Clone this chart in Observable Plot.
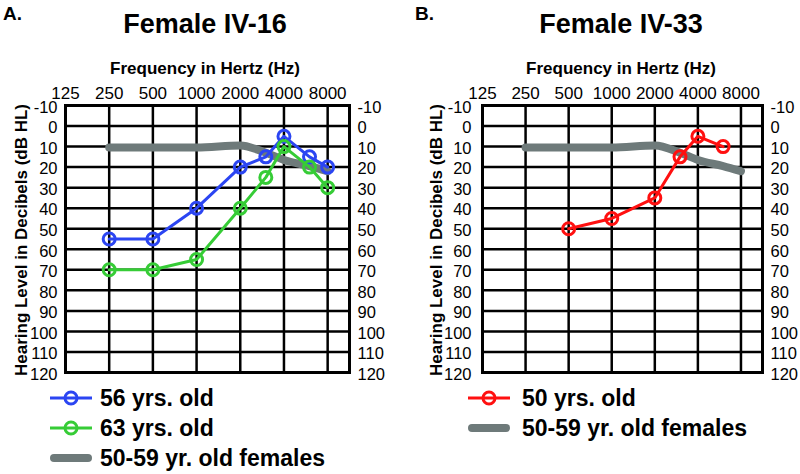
<!DOCTYPE html>
<html><head><meta charset="utf-8">
<script src="https://cdn.jsdelivr.net/npm/d3@7"></script>
<script src="https://cdn.jsdelivr.net/npm/@observablehq/plot@0.6"></script>
<style>
body{margin:0;background:#fff;font-family:"Liberation Sans",Arial,Helvetica,sans-serif;}
#wrap{position:relative;width:800px;height:474px;display:flex;overflow:hidden;}
.panel{position:relative;width:400px;height:474px;}
.panel > svg{position:absolute;left:0;top:0;}
.lbl{position:absolute;font-weight:bold;white-space:nowrap;color:#000;line-height:1;}
.sw{position:absolute;}
</style></head><body><div id="wrap"></div><script>
// ---- data ----
const freqTicks = [125, 250, 500, 1000, 2000, 4000, 8000];
const dbTicks = [-10, 0, 10, 20, 30, 40, 50, 60, 70, 80, 90, 100, 110, 120];
const freqs = [250, 500, 1000, 2000, 3000, 4000, 6000, 8000];
const iv16_56 = [55, 55, 40, 20, 15, 5, 15, 20];
const iv16_63 = [70, 70, 65, 40, 25, 10, 20, 30];
const iv33Freqs = [500, 1000, 2000, 3000, 4000, 6000];
const iv33_50 = [50, 45, 35, 15, 5, 10];
const normFemales = [10.5, 10.5, 10.5, 9.5, 13, 16.5, 19.5, 22];

const BLUE = "#2b45f2", GREEN = "#36cc36", RED = "#ff1010", GRAY = "#6e7a7a";
const FONT = '"Liberation Sans", Arial, Helvetica, sans-serif';

const toRows = (fs, vs) => fs.map((f, i) => ({f, db: vs[i]}));

function label(parent, text, x, y, size, opts = {}) {
  const d = document.createElement("div");
  d.className = "lbl";
  d.textContent = text;
  d.style.fontSize = size + "px";
  d.style.left = x + "px";
  d.style.top = y + "px";
  d.style.transform = opts.transform || "translate(-50%,-50%)";
  parent.appendChild(d);
}

function swatch(parent, x, y, color, kind) {
  const ns = "http://www.w3.org/2000/svg";
  const s = document.createElementNS(ns, "svg");
  s.setAttribute("width", 48); s.setAttribute("height", 20);
  s.setAttribute("class", "sw");
  s.style.left = (x - 3) + "px"; s.style.top = (y - 10) + "px";
  const l = document.createElementNS(ns, "line");
  l.setAttribute("x1", 3 + (kind === "band" ? 4 : 0)); l.setAttribute("x2", 45 - (kind === "band" ? 4 : 0));
  l.setAttribute("y1", 10); l.setAttribute("y2", 10);
  l.setAttribute("stroke", color);
  l.setAttribute("stroke-width", kind === "band" ? 8 : 3);
  l.setAttribute("stroke-linecap", kind === "band" ? "round" : "butt");
  s.appendChild(l);
  if (kind !== "band") {
    const c = document.createElementNS(ns, "circle");
    c.setAttribute("cx", 24); c.setAttribute("cy", 10); c.setAttribute("r", 6);
    c.setAttribute("fill", "none"); c.setAttribute("stroke", color); c.setAttribute("stroke-width", 3);
    s.appendChild(c);
  }
  parent.appendChild(s);
}

function panel(cfg) {
  const div = document.createElement("div");
  div.className = "panel";
  const seriesMarks = [];
  for (const s of cfg.series) {
    const rows = toRows(s.f, s.v);
    seriesMarks.push(Plot.line(rows, {x: "f", y: "db", stroke: s.color, strokeWidth: 3}));
    seriesMarks.push(Plot.dot(rows, {x: "f", y: "db", r: 6, stroke: s.color, strokeWidth: 3, fill: "none"}));
  }
  const axisOpts = {tickSize: 0, label: null, dy: 2, tickFormat: d => String(d), fontSize: 16.5};
  const plot = Plot.plot({
    width: 400, height: 474,
    marginTop: 105, marginBottom: 102, marginLeft: cfg.ml, marginRight: cfg.mr,
    x: {type: "log", domain: [125, 125 * Math.pow(2, 6.5)], axis: null},
    y: {domain: [-10, 120], reverse: true},
    style: {fontFamily: FONT, fontSize: "17px", color: "#000", background: "transparent"},
    marks: [
      Plot.ruleX(freqTicks.slice(1), {stroke: "#000", strokeWidth: 2.5}),
      Plot.ruleY(dbTicks.slice(1, -1), {stroke: "#000", strokeWidth: 2.5}),
      Plot.frame({stroke: "#000", strokeWidth: 3}),
      // top frequency tick labels, positioned by the log x scale
      Plot.text(freqTicks, {x: d => d, frameAnchor: "top", lineAnchor: "bottom", dy: -7, text: d => String(d), fontSize: 17, fill: "#000"}),
      Plot.axisY(dbTicks, {anchor: "left", tickPadding: cfg.tpl, ...axisOpts}),
      Plot.axisY(dbTicks, {anchor: "right", tickPadding: cfg.tpr, ...axisOpts}),
      Plot.line(toRows(freqs, normFemales), {x: "f", y: "db", stroke: GRAY, strokeWidth: 8, strokeLinecap: "round", curve: "monotone-x"}),
      ...seriesMarks
    ]
  });
  div.appendChild(plot);
  label(div, cfg.letter, cfg.letterX, 13, 19, {transform: "translate(0,-50%)"});
  label(div, cfg.title, cfg.cx, 24, 27);
  label(div, "Frequency in Hertz (Hz)", cfg.cx, 68, 17);
  label(div, "Hearing Level in Decibels (dB HL)", cfg.yLabX, 240, 17, {transform: "translate(-50%,-50%) rotate(-90deg)"});
  cfg.legend.forEach((it, i) => {
    const y = 398 + i * 30;
    swatch(div, cfg.swX, y, it.color, it.kind);
    label(div, it.text, cfg.txtX, y, 23, {transform: "translate(0,-50%)"});
  });
  return div;
}

const wrap = document.getElementById("wrap");
wrap.appendChild(panel({
  letter: "A.", letterX: 3, title: "Female IV-16", cx: 205, yLabX: 20.5,
  ml: 65, mr: 51, tpl: 8, tpr: 8, swX: 50, txtX: 100,
  series: [
    {f: freqs, v: iv16_56, color: BLUE},
    {f: freqs, v: iv16_63, color: GREEN}
  ],
  legend: [
    {text: "56 yrs. old", color: BLUE, kind: "dot"},
    {text: "63 yrs. old", color: GREEN, kind: "dot"},
    {text: "50-59 yr. old females", color: GRAY, kind: "band"}
  ]
}));
wrap.appendChild(panel({
  letter: "B.", letterX: 15, title: "Female IV-33", cx: 221, yLabX: 35.5,
  ml: 82, mr: 38, tpl: 11, tpr: 8, swX: 68, txtX: 122,
  series: [
    {f: iv33Freqs, v: iv33_50, color: RED}
  ],
  legend: [
    {text: "50 yrs. old", color: RED, kind: "dot"},
    {text: "50-59 yr. old females", color: GRAY, kind: "band"}
  ]
}));
</script></body></html>
